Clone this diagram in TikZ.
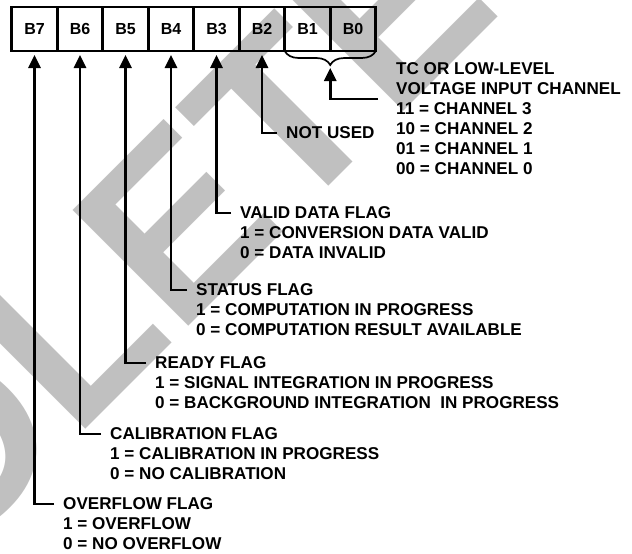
\documentclass[tikz,border=0pt]{standalone}
\usepackage{fontspec}
\setmainfont{Liberation Sans}
\usetikzlibrary{
  arrows.meta,
  positioning,
  decorations.pathreplacing
}
\definecolor{wmgray}{RGB}{192,192,192}
\definecolor{regline}{RGB}{0,0,0}
\tikzset{
  % Register bit cells
  bitbox/.style    = {draw=regline, line width=2.8pt, minimum width=45.5pt,
                      minimum height=44pt, inner sep=0pt, outer sep=0pt,
                      font=\fontsize{16}{16}\selectfont\bfseries},
  % Flag descriptions
  flaglab/.style   = {anchor=north west, align=left, inner sep=0pt,
                      font=\fontsize{17.1}{20}\selectfont\bfseries},
  % Leader arrows
  flagarrow/.style = {draw=regline, line width=2.7pt,
                      -{Triangle[length=13pt,width=12pt]}},
  % Brace under B1, B0
  bitbrace/.style  = {draw=regline, line width=1.7pt, decorate,
                      decoration={brace, mirror, amplitude=14pt}},
  % Watermark
  wmark/.style     = {text=wmgray, anchor=base west, rotate=45, inner sep=0pt,
                      font=\fontsize{238}{238}\selectfont\bfseries},
}

\begin{document}
\begin{tikzpicture}[x=1pt, y=-1pt]
  \useasboundingbox (0,0) rectangle (632,554);
  % Watermark
  \begin{scope}
    \clip (0,0) rectangle (632,554);
    \node[wmark] (wm) at (-421,936) {OBSOLETE};
  \end{scope}
  % Bit cells
  \foreach \b [count=\k from 0] in {7,...,0}
    \node[bitbox] (b\b) at (34.5+45.5*\k, 29) {B\b};
  % Brace over B1, B0
  \draw[bitbrace] (b1.south west) -- (b0.south east);
  \coordinate[below=17pt of b1.south east] (brtip);
  % Descriptions
  \node[flaglab] (chan) at (396,62.8)
    {TC OR LOW-LEVEL\\VOLTAGE INPUT CHANNEL\\11 = CHANNEL 3\\10 = CHANNEL 2\\01 = CHANNEL 1\\00 = CHANNEL 0};
  \node[flaglab] (nused) at (286,126.8) {NOT USED};
  \node[flaglab] (vld) at (240,206.8)
    {VALID DATA FLAG\\1 = CONVERSION DATA VALID\\0 = DATA INVALID};
  \node[flaglab] (sts) at (196,283.8)
    {STATUS FLAG\\1 = COMPUTATION IN PROGRESS\\0 = COMPUTATION RESULT AVAILABLE};
  \node[flaglab] (rdy) at (155,356.8)
    {READY FLAG\\1 = SIGNAL INTEGRATION IN PROGRESS\\0 = BACKGROUND INTEGRATION \ IN PROGRESS};
  \node[flaglab] (cal) at (110,427.8)
    {CALIBRATION FLAG\\1 = CALIBRATION IN PROGRESS\\0 = NO CALIBRATION};
  \node[flaglab] (ovf) at (63,497.8)
    {OVERFLOW FLAG\\1 = OVERFLOW\\0 = NO OVERFLOW};
  % Leaders
  \coordinate (chanin) at (378,99);
  \draw[flagarrow] (chanin) -| (brtip);
  \draw[flagarrow] ([shift={(-9pt,-6.2pt)}]nused.north west) -| ([yshift=-4pt]b2.south);
  \draw[flagarrow] ([shift={(-9pt,-6.2pt)}]vld.north west) -| ([yshift=-4pt]b3.south);
  \draw[flagarrow] ([shift={(-9pt,-6.2pt)}]sts.north west) -| ([yshift=-4pt]b4.south);
  \draw[flagarrow] ([shift={(-9pt,-6.2pt)}]rdy.north west) -| ([yshift=-4pt]b5.south);
  \draw[flagarrow] ([shift={(-9pt,-6.2pt)}]cal.north west) -| ([yshift=-4pt]b6.south);
  \draw[flagarrow] ([shift={(-9pt,-6.2pt)}]ovf.north west) -| ([yshift=-4pt]b7.south);
\end{tikzpicture}
\end{document}
